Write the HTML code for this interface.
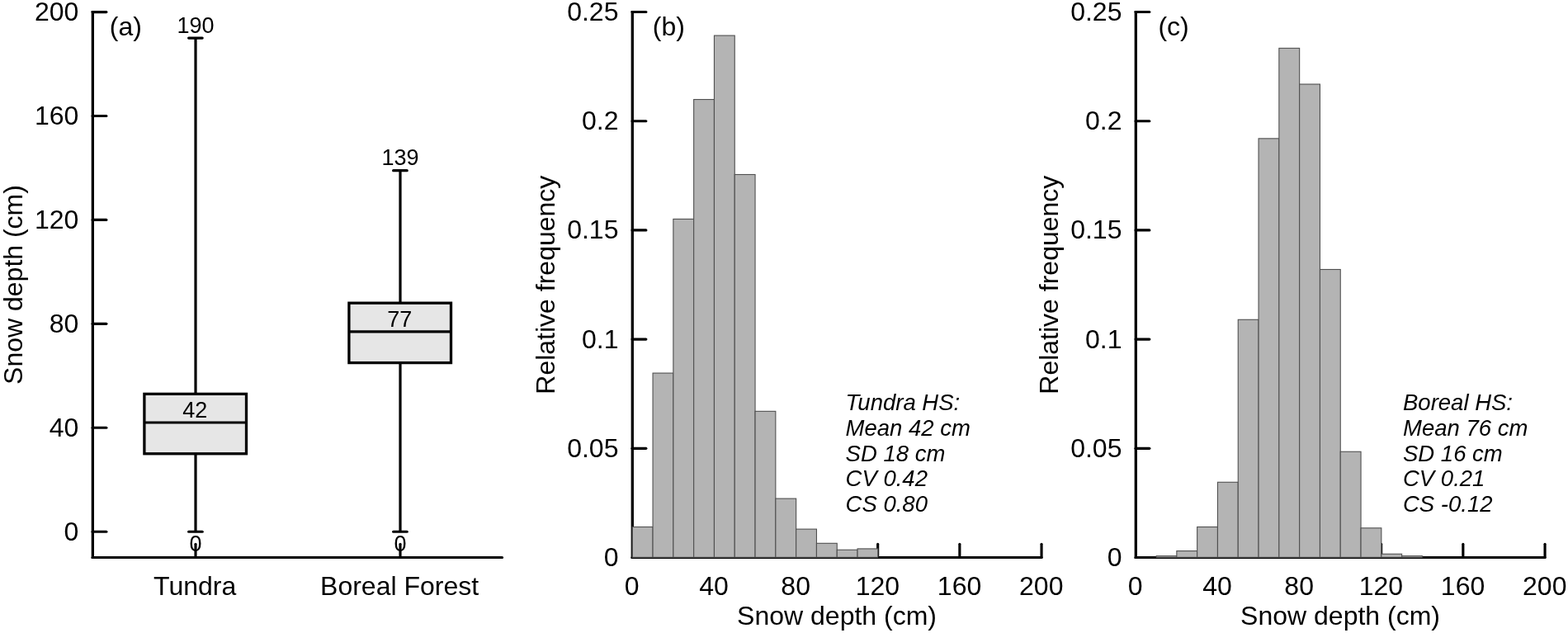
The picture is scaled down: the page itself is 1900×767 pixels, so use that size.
<!DOCTYPE html>
<html lang="en"><head><meta charset="utf-8"><title>Snow depth distributions</title>
<style>html,body{margin:0;padding:0;background:#fff;}body{width:1900px;height:767px;overflow:hidden;}svg{display:block;}text{font-family:"Liberation Sans",sans-serif;fill:#000;}.t{font-size:32px;}.s{font-size:27px;}.i{font-size:27.5px;font-style:italic;}.ax{stroke:#000;stroke-width:3.15;stroke-linecap:round;fill:none;}.vx{stroke:#000;stroke-width:3.3;stroke-linecap:butt;fill:none;}.sq{stroke:#000;stroke-width:3.2;stroke-linecap:butt;fill:none;}.box{stroke:#000;stroke-width:3.3;fill:#e6e6e6;stroke-linejoin:miter;}.bar{fill:#b4b4b4;stroke:#505050;stroke-width:1.1;}</style></head><body>
<svg width="1900" height="767" viewBox="0 0 1900 767">
<rect width="1900" height="767" fill="#fff"/>
<g id="panel-a">
<line class="sq" x1="237" y1="46.08" x2="237" y2="644.2"/>
<line class="ax" x1="228.6" y1="46.08" x2="245.2" y2="46.08"/>
<line class="ax" x1="228.6" y1="644.2" x2="245.2" y2="644.2"/>
<rect class="box" x="174.9" y="477.36" width="123.6" height="72.4"/>
<line class="sq" x1="175.2" y1="511.98" x2="298.8" y2="511.98"/>
<text class="s" text-anchor="middle" x="237" y="39.58">190</text>
<text class="s" text-anchor="middle" x="236.2" y="505.68">42</text>
<text class="s" text-anchor="middle" x="237" y="668.2">0</text>
<line class="ax" x1="237" y1="675.5" x2="237" y2="659.2"/>
<line class="sq" x1="485" y1="206.63" x2="485" y2="644.2"/>
<line class="ax" x1="476.6" y1="206.63" x2="493.2" y2="206.63"/>
<line class="ax" x1="476.6" y1="644.2" x2="493.2" y2="644.2"/>
<rect class="box" x="422.9" y="367.18" width="123.6" height="72.4"/>
<line class="sq" x1="423.2" y1="401.8" x2="546.8" y2="401.8"/>
<text class="s" text-anchor="middle" x="485" y="200.13">139</text>
<text class="s" text-anchor="middle" x="484.2" y="395.5">77</text>
<text class="s" text-anchor="middle" x="485" y="668.2">0</text>
<line class="ax" x1="485" y1="675.5" x2="485" y2="659.2"/>
<line class="vx" x1="112.35" y1="13.05" x2="112.35" y2="677.05"/>
<line class="ax" x1="112.1" y1="675.5" x2="608.5" y2="675.5"/>
<line class="ax" x1="112.1" y1="644.2" x2="128.9" y2="644.2"/>
<text class="t" text-anchor="end" x="95.3" y="654.6">0</text>
<line class="ax" x1="112.1" y1="518.28" x2="128.9" y2="518.28"/>
<text class="t" text-anchor="end" x="95.3" y="528.68">40</text>
<line class="ax" x1="112.1" y1="392.36" x2="128.9" y2="392.36"/>
<text class="t" text-anchor="end" x="95.3" y="402.76">80</text>
<line class="ax" x1="112.1" y1="266.44" x2="128.9" y2="266.44"/>
<text class="t" text-anchor="end" x="95.3" y="276.84">120</text>
<line class="ax" x1="112.1" y1="140.52" x2="128.9" y2="140.52"/>
<text class="t" text-anchor="end" x="95.3" y="150.92">160</text>
<line class="ax" x1="112.1" y1="14.6" x2="128.9" y2="14.6"/>
<text class="t" text-anchor="end" x="95.3" y="25">200</text>
<text class="t" x="132.8" y="42.5">(a)</text>
<text class="t" text-anchor="middle" x="236.2" y="720.6">Tundra</text>
<text class="t" text-anchor="middle" x="484.1" y="720.6">Boreal Forest</text>
<text class="t" text-anchor="middle" transform="translate(26.5,345) rotate(-90)">Snow depth (cm)</text>
</g>
<g id="panel-b">
<line class="vx" x1="766.3" y1="12.95" x2="766.3" y2="677.05"/>
<line class="ax" x1="766.05" y1="675.5" x2="1262.05" y2="675.5"/>
<line class="ax" x1="865.25" y1="675.5" x2="865.25" y2="659.2"/>
<line class="ax" x1="964.45" y1="675.5" x2="964.45" y2="659.2"/>
<line class="ax" x1="1063.65" y1="675.5" x2="1063.65" y2="659.2"/>
<line class="ax" x1="1162.85" y1="675.5" x2="1162.85" y2="659.2"/>
<line class="ax" x1="1262.05" y1="675.5" x2="1262.05" y2="659.2"/>
<text class="t" text-anchor="end" x="749.45" y="685.9">0</text>
<line class="ax" x1="766.05" y1="543.3" x2="782.8499999999999" y2="543.3"/>
<text class="t" text-anchor="end" x="749.45" y="553.7">0.05</text>
<line class="ax" x1="766.05" y1="411.1" x2="782.8499999999999" y2="411.1"/>
<text class="t" text-anchor="end" x="749.45" y="421.5">0.1</text>
<line class="ax" x1="766.05" y1="278.9" x2="782.8499999999999" y2="278.9"/>
<text class="t" text-anchor="end" x="749.45" y="289.3">0.15</text>
<line class="ax" x1="766.05" y1="146.7" x2="782.8499999999999" y2="146.7"/>
<text class="t" text-anchor="end" x="749.45" y="157.1">0.2</text>
<line class="ax" x1="766.05" y1="14.5" x2="782.8499999999999" y2="14.5"/>
<text class="t" text-anchor="end" x="749.45" y="24.9">0.25</text>
<rect class="bar" x="766.25" y="638.48" width="24.8" height="36.82"/>
<rect class="bar" x="791.05" y="452.08" width="24.8" height="223.22"/>
<rect class="bar" x="815.85" y="265.42" width="24.8" height="409.88"/>
<rect class="bar" x="840.65" y="120.52" width="24.8" height="554.78"/>
<rect class="bar" x="865.45" y="43.06" width="24.8" height="632.24"/>
<rect class="bar" x="890.25" y="211.48" width="24.8" height="463.82"/>
<rect class="bar" x="915.05" y="498.35" width="24.8" height="176.95"/>
<rect class="bar" x="939.85" y="604.11" width="24.8" height="71.19"/>
<rect class="bar" x="964.65" y="641.13" width="24.8" height="34.17"/>
<rect class="bar" x="989.45" y="658.31" width="24.8" height="16.99"/>
<rect class="bar" x="1014.25" y="666.25" width="24.8" height="9.05"/>
<rect class="bar" x="1039.05" y="664.92" width="24.8" height="10.38"/>
<text class="t" text-anchor="middle" x="765.75" y="720.9">0</text>
<text class="t" text-anchor="middle" x="864.95" y="720.9">40</text>
<text class="t" text-anchor="middle" x="964.15" y="720.9">80</text>
<text class="t" text-anchor="middle" x="1063.35" y="720.9">120</text>
<text class="t" text-anchor="middle" x="1162.55" y="720.9">160</text>
<text class="t" text-anchor="middle" x="1261.75" y="720.9">200</text>
<text class="t" x="790.85" y="42.5">(b)</text>
<text class="t" text-anchor="middle" x="1014.05" y="757">Snow depth (cm)</text>
<text class="t" text-anchor="middle" transform="translate(671.75,345.2) rotate(-90)">Relative frequency</text>
<text class="i" x="1024.6" y="497">Tundra HS:</text>
<text class="i" x="1024.6" y="527.75">Mean 42 cm</text>
<text class="i" x="1024.6" y="558.5">SD 18 cm</text>
<text class="i" x="1024.6" y="589.25">CV 0.42</text>
<text class="i" x="1024.6" y="620">CS 0.80</text>
</g>
<g id="panel-c">
<line class="vx" x1="1376.3" y1="12.95" x2="1376.3" y2="677.05"/>
<line class="ax" x1="1376.05" y1="675.5" x2="1872.05" y2="675.5"/>
<line class="ax" x1="1475.25" y1="675.5" x2="1475.25" y2="659.2"/>
<line class="ax" x1="1574.45" y1="675.5" x2="1574.45" y2="659.2"/>
<line class="ax" x1="1673.65" y1="675.5" x2="1673.65" y2="659.2"/>
<line class="ax" x1="1772.85" y1="675.5" x2="1772.85" y2="659.2"/>
<line class="ax" x1="1872.05" y1="675.5" x2="1872.05" y2="659.2"/>
<text class="t" text-anchor="end" x="1359.45" y="685.9">0</text>
<line class="ax" x1="1376.05" y1="543.3" x2="1392.85" y2="543.3"/>
<text class="t" text-anchor="end" x="1359.45" y="553.7">0.05</text>
<line class="ax" x1="1376.05" y1="411.1" x2="1392.85" y2="411.1"/>
<text class="t" text-anchor="end" x="1359.45" y="421.5">0.1</text>
<line class="ax" x1="1376.05" y1="278.9" x2="1392.85" y2="278.9"/>
<text class="t" text-anchor="end" x="1359.45" y="289.3">0.15</text>
<line class="ax" x1="1376.05" y1="146.7" x2="1392.85" y2="146.7"/>
<text class="t" text-anchor="end" x="1359.45" y="157.1">0.2</text>
<line class="ax" x1="1376.05" y1="14.5" x2="1392.85" y2="14.5"/>
<text class="t" text-anchor="end" x="1359.45" y="24.9">0.25</text>
<rect class="bar" x="1401.05" y="673.65" width="24.8" height="1.65"/>
<rect class="bar" x="1425.85" y="667.57" width="24.8" height="7.73"/>
<rect class="bar" x="1450.65" y="638.48" width="24.8" height="36.82"/>
<rect class="bar" x="1475.45" y="584.28" width="24.8" height="91.02"/>
<rect class="bar" x="1500.25" y="387.3" width="24.8" height="288"/>
<rect class="bar" x="1525.05" y="167.85" width="24.8" height="507.45"/>
<rect class="bar" x="1549.85" y="58.39" width="24.8" height="616.91"/>
<rect class="bar" x="1574.65" y="102.02" width="24.8" height="573.28"/>
<rect class="bar" x="1599.45" y="326.49" width="24.8" height="348.81"/>
<rect class="bar" x="1624.25" y="547.27" width="24.8" height="128.03"/>
<rect class="bar" x="1649.05" y="639.81" width="24.8" height="35.49"/>
<rect class="bar" x="1673.85" y="671.27" width="24.8" height="4.03"/>
<rect class="bar" x="1698.65" y="673.65" width="24.8" height="1.65"/>
<text class="t" text-anchor="middle" x="1375.75" y="720.9">0</text>
<text class="t" text-anchor="middle" x="1474.95" y="720.9">40</text>
<text class="t" text-anchor="middle" x="1574.15" y="720.9">80</text>
<text class="t" text-anchor="middle" x="1673.35" y="720.9">120</text>
<text class="t" text-anchor="middle" x="1772.55" y="720.9">160</text>
<text class="t" text-anchor="middle" x="1871.75" y="720.9">200</text>
<text class="t" x="1403.45" y="42.5">(c)</text>
<text class="t" text-anchor="middle" x="1624.05" y="757">Snow depth (cm)</text>
<text class="t" text-anchor="middle" transform="translate(1281.75,345.2) rotate(-90)">Relative frequency</text>
<text class="i" x="1700.0" y="497">Boreal HS:</text>
<text class="i" x="1700.0" y="527.75">Mean 76 cm</text>
<text class="i" x="1700.0" y="558.5">SD 16 cm</text>
<text class="i" x="1700.0" y="589.25">CV 0.21</text>
<text class="i" x="1700.0" y="620">CS -0.12</text>
</g>
</svg></body></html>
